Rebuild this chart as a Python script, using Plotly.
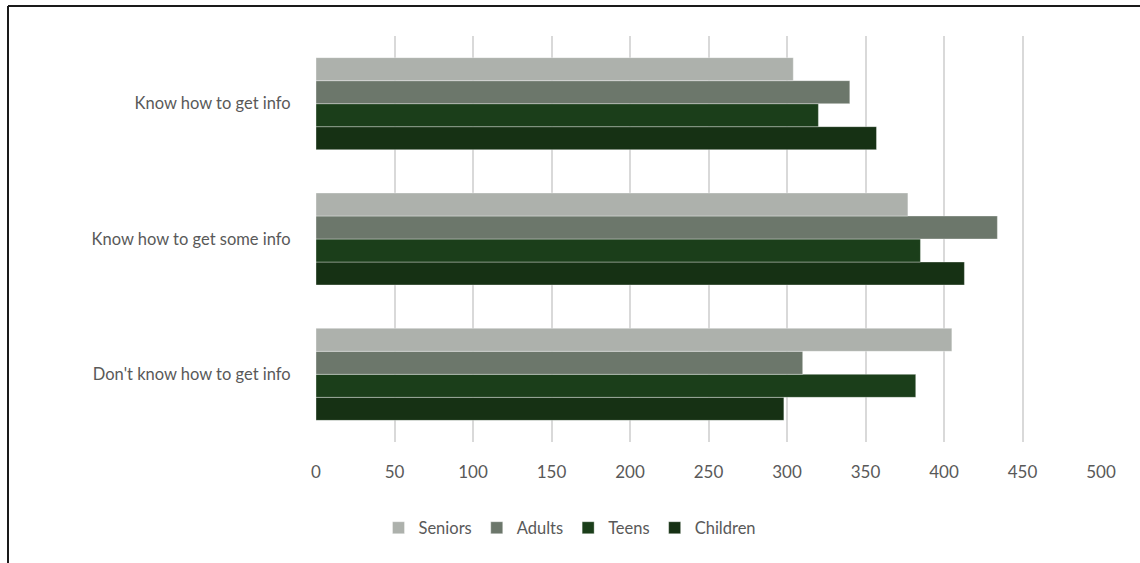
import plotly.graph_objects as go

categories = ["Don't know how to get info", "Know how to get some info", "Know how to get info"]
seniors = [405, 377, 304]
adults = [310, 434, 340]
teens = [382, 385, 320]
children = [298, 413, 357]
x_ticks = [0, 50, 100, 150, 200, 250, 300, 350, 400, 450, 500]

series = [
    ("Children", children, "#163114"),
    ("Teens", teens, "#1B3E1A"),
    ("Adults", adults, "#6C776B"),
    ("Seniors", seniors, "#ADB1AC"),
]

W, H = 1140, 563
L, R, T, B = 316, 39, 36, 121

fig = go.Figure()
for name, vals, color in series:
    fig.add_trace(go.Bar(
        y=categories, x=vals, name=name, orientation="h",
        marker=dict(color=color, line=dict(color="rgba(255,255,255,0.35)", width=1)),
    ))

pw = W - L - R
ph = H - T - B
fig.update_layout(
    width=W, height=H,
    margin=dict(l=L, r=R, t=T, b=B),
    paper_bgcolor="white", plot_bgcolor="white",
    barmode="group", bargap=0.32, bargroupgap=0,
    font=dict(family="Lato, Open Sans, sans-serif", size=16.5, color="#595959"),
    xaxis=dict(range=[0, 500], tickvals=x_ticks, showgrid=True, gridcolor="#d9d9d9", gridwidth=1.5,
               zeroline=False, showline=False, ticks="outside", ticklen=15,
               tickcolor="rgba(0,0,0,0)", tickfont=dict(size=17)),
    yaxis=dict(showgrid=False, zeroline=False, showline=False, ticks="outside", ticklen=21,
               tickcolor="rgba(0,0,0,0)", tickfont=dict(size=16.5)),
    legend=dict(orientation="h", traceorder="reversed", xref="container", yref="container",
                x=0.5, xanchor="center", y=1 - 528 / H, yanchor="middle",
                font=dict(size=16.5), itemwidth=30),
    showlegend=True,
)

# Outer border (top and left edges visible)
x_left = (8 - L) / pw
x_right = (W + 5 - L) / pw
y_top = 1 + (T - 6) / ph
y_bot = -(B + 5) / ph
fig.add_shape(type="line", xref="paper", yref="paper", x0=x_left, x1=x_right, y0=y_top, y1=y_top,
              line=dict(color="#1a1a1a", width=2))
fig.add_shape(type="line", xref="paper", yref="paper", x0=x_left, x1=x_left, y0=y_top, y1=y_bot,
              line=dict(color="#1a1a1a", width=2))

fig.write_html("out.html", config={"displayModeBar": False},
               post_script="document.body.style.margin='0';")
